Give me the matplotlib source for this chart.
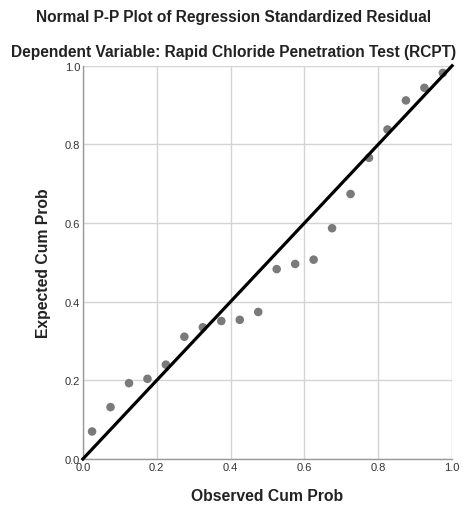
import numpy as np
import matplotlib.pyplot as plt

plt.rcParams['font.family'] = ['Liberation Sans', 'DejaVu Sans']

# Observed vs expected cumulative probabilities
observed = [0.025, 0.075, 0.125, 0.175, 0.225, 0.275, 0.325, 0.375, 0.425, 0.475,
            0.525, 0.575, 0.625, 0.675, 0.725, 0.775, 0.825, 0.875, 0.925, 0.975]
expected = [0.070, 0.132, 0.193, 0.204, 0.240, 0.311, 0.335, 0.351, 0.354, 0.374,
            0.483, 0.496, 0.507, 0.587, 0.674, 0.766, 0.838, 0.912, 0.944, 0.982]
ticks = [0.0, 0.2, 0.4, 0.6, 0.8, 1.0]


def main():
    fig = plt.figure(figsize=(4.68, 5.10), dpi=100)
    ax = fig.add_axes([0.177, 0.098, 0.789, 0.771])

    ax.set_xlim(0, 1)
    ax.set_ylim(0, 1)
    ax.set_xticks(ticks)
    ax.set_yticks(ticks)
    ax.set_xticklabels([f"{t:.1f}" for t in ticks])
    ax.set_yticklabels([f"{t:.1f}" for t in ticks])
    ax.grid(True, color="#d4d4d4", linewidth=1)
    ax.set_axisbelow(True)

    for side in ["top", "right"]:
        ax.spines[side].set_visible(False)
    for side in ["left", "bottom"]:
        ax.spines[side].set_color("#999999")
        ax.spines[side].set_linewidth(1)

    ax.tick_params(length=0, pad=2, labelsize=8, labelcolor="#333333")

    ax.scatter(observed, expected, s=38, color="#7a7a7a", zorder=3,
               edgecolors="none", clip_on=False)
    ax.plot([0, 1], [0, 1], color="black", linewidth=2.3, zorder=4,
            clip_on=False)

    ax.set_xlabel("Observed Cum Prob", fontsize=11.3, fontweight="bold",
                  color="#222222", labelpad=12)
    ax.set_ylabel("Expected Cum Prob", fontsize=11.3, fontweight="bold",
                  color="#222222", labelpad=10)

    fig.text(0.5, 0.965, "Normal P-P Plot of Regression Standardized Residual",
             ha="center", va="center", fontsize=11.2, fontweight="bold",
             color="#222222")
    fig.text(0.5, 0.898, "Dependent Variable: Rapid Chloride Penetration Test (RCPT)",
             ha="center", va="center", fontsize=11.2, fontweight="bold",
             color="#222222")

    fig.savefig("out.png", dpi=100)


if __name__ == "__main__":
    main()
